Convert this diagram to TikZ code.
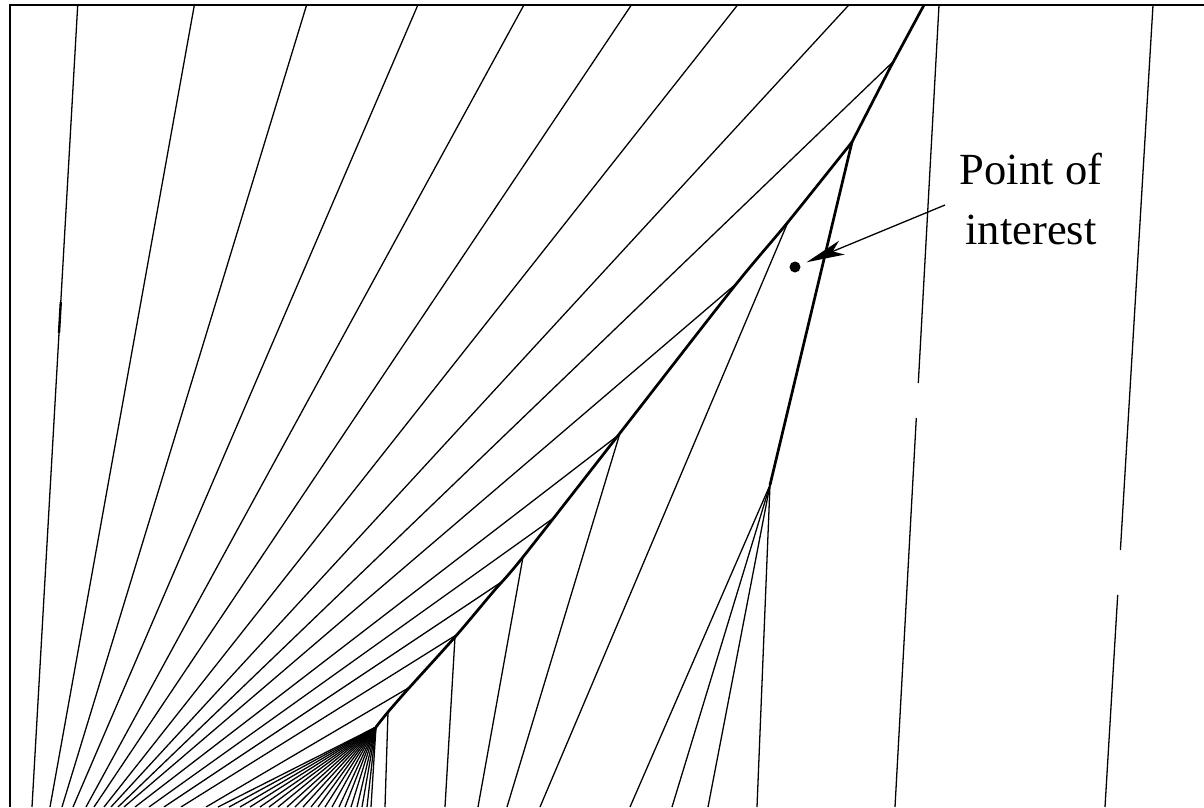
\documentclass[tikz,border=0pt]{standalone}
\usepackage{fontspec}
\setmainfont{Liberation Serif}
\usetikzlibrary{arrows.meta,positioning}

\begin{document}
\begin{tikzpicture}[x=0.03cm, y=-0.03cm,
    >={Stealth[length=1.15cm, width=0.45cm, inset=0.3cm]},
    char/.style={line width=1.1pt},
    shock/.style={line width=2.3pt, line join=round},
    frame/.style={line width=1.2pt}]
  \useasboundingbox (0,0) rectangle (1204,807);
  % Frame: only top and left edges show
  \draw[frame] (1204,5) -- (10,5) -- (10,807);
  % Points on the shock
  \coordinate (s0) at (376,727);
  \coordinate (s1) at (388,712);
  \coordinate (s2) at (409,688);
  \coordinate (s3) at (455,637);
  \coordinate (s4) at (493,592);
  \coordinate (s5) at (523,557);
  \coordinate (s6) at (620,433);
  \coordinate (s7) at (733,288);
  \coordinate (s8) at (788,222);
  \coordinate (s9) at (852,142);
  \coordinate (s10) at (890,68);
  \coordinate (s11) at (924,5);
  \coordinate (f2) at (770,485);
  % Left family, cut off at the shock
  \begin{scope}
    \clip (376,807) -- plot[smooth] coordinates {(s0) (s1) (s2) (s3) (s4) (s5) (s6) (s7) (s8) (s9)}
      -- (s10) -- (s11) -- (10,5) -- (10,807) -- cycle;
    \foreach \bx/\sx in {32/0.057, 50/0.18, 62/0.305, 73/0.43, 86/0.546, 94/0.67,
        104/0.79, 111/0.92, 118/1.04, 124/1.17, 135/1.30, 149/1.40, 164/1.50,
        181/1.60, 206/1.70}
      \draw[char] (\bx,807) -- ({\bx+\sx*820},-13);
  \end{scope}
  % Compression lines into the start of the shock
  \foreach \bx in {218,229,240,250,260,269,278,287,295,303,311,318,325,332,339,
      345,351,357,362,367,371}
    \draw[char] (\bx,807) -- (s0);
  % Right family, ending on the shock
  \draw[char] (385,807) -- (s1);
  \draw[char] (445,807) -- (s3);
  \draw[char] (478,807) -- (s5);
  \draw[char] (507,807) -- (s6);
  \draw[char] (540,807) -- (s8);
  % Second fan and second shock
  \foreach \bx in {630,672,708,757}
    \draw[char] (\bx,807) -- (f2);
  \draw[shock] (f2) -- (s9);
  % Main shock
  \draw[shock] plot[smooth] coordinates {(s0) (s1) (s2) (s3) (s4) (s5) (s6) (s7) (s8) (s9)}
    -- (s10) -- (s11);
  % Lines on the far right (broken)
  \draw[char] (895,807) -- (916.3,418);
  \draw[char] (918.3,383) -- (939,5);
  \draw[char] (1105,807) -- (1117.7,595);
  \draw[char] (1120.4,550) -- (1153,5);
  % Short heavy mark on the first line
  \draw[line width=2pt] (60.8,302) -- (59.0,333);
  % Label and point
  \node[font=\fontsize{38}{51}\selectfont, align=center, anchor=north, inner sep=0pt]
    (label) at (1031,153) {Point of\\interest};
  \node[circle, fill, inner sep=0pt, minimum size=0.33cm] (poi) at (795,267) {};
  \coordinate (tail) at (945,205);
  \draw[->, line width=1.1pt, shorten >=0.2cm] (tail) -- (poi);
\end{tikzpicture}
\end{document}
